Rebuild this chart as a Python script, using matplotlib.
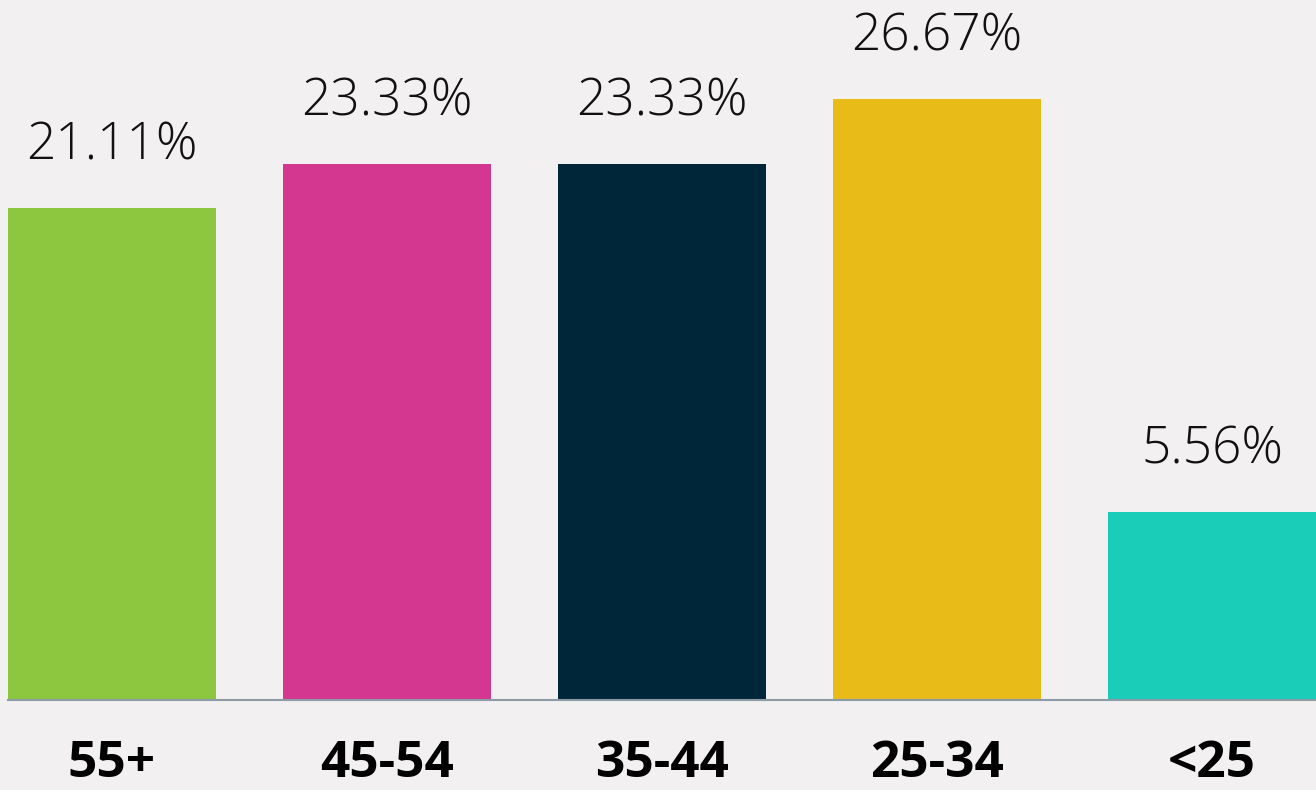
import numpy as np
import matplotlib.pyplot as plt

# age groups and share of respondents (%)
groups = ['55+', '45-54', '35-44', '25-34', '<25']
shares = [21.11, 23.33, 23.33, 26.67, 5.56]
colors = ['#8DC63F', '#D43790', '#00263A', '#E8BB19', '#1ACDB8']

AXIS_MIN = -4.05   # the value axis in the original does not start at zero
AXIS_MAX = 31.74
BG = '#F2F0F1'

fig = plt.figure(figsize=(13.16, 7.9), dpi=100, facecolor=BG)
ax = fig.add_axes([8 / 1316, 90 / 790, 1308 / 1316, 700 / 790])
ax.set_facecolor(BG)

x = np.arange(len(groups))
vals = np.array(shares)
bars = ax.bar(x, vals - AXIS_MIN, bottom=AXIS_MIN, width=0.756, color=colors)

for b, v in zip(bars, shares):
    ax.annotate('%.2f%%' % v, (b.get_x() + b.get_width() / 2, v),
                xytext=(0, 35), textcoords='offset points',
                ha='center', va='baseline', fontsize=37,
                family='Open Sans', fontweight='light', color='#111111')

ax.set_xlim(-0.378, len(groups) - 1 + 0.378)
ax.set_ylim(AXIS_MIN, AXIS_MAX)
ax.set_xticks(x)
ax.set_xticklabels(groups, fontsize=37, fontweight='bold', family='Open Sans')
ax.tick_params(axis='x', length=0, pad=28)
ax.set_yticks([])
for s in ['top', 'left', 'right']:
    ax.spines[s].set_visible(False)
ax.spines['bottom'].set_color('#8C9BA5')
ax.spines['bottom'].set_linewidth(1.5)

fig.savefig('out.png', dpi=100, facecolor=BG)
